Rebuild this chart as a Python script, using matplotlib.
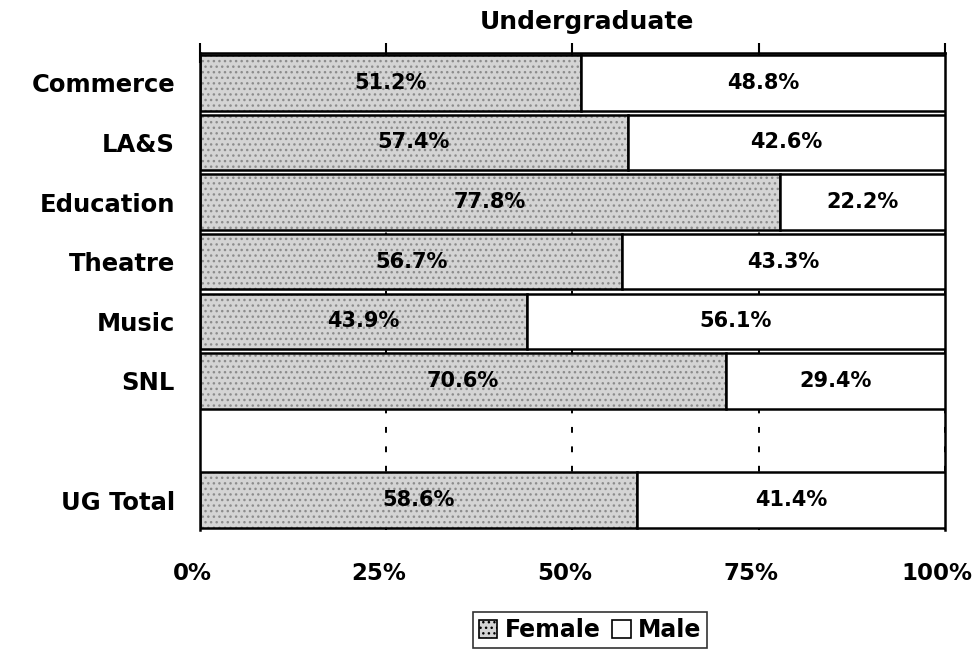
import numpy as np
import matplotlib
matplotlib.use("Agg")
import matplotlib.pyplot as plt
import matplotlib.transforms as mtransforms
from matplotlib.patches import Patch

categories = ['Commerce', 'LA&S', 'Education', 'Theatre', 'Music', 'SNL', '', 'UG Total']
female = [51.2, 57.4, 77.8, 56.7, 43.9, 70.6, np.nan, 58.6]
male = [48.8, 42.6, 22.2, 43.3, 56.1, 29.4, np.nan, 41.4]
xticks = [0, 25, 50, 75, 100]
xticklabels = ['0%', '25%', '50%', '75%', '100%']

plt.rcParams['font.family'] = ['DejaVu Sans']
plt.rcParams['font.weight'] = 'bold'

fig = plt.figure(figsize=(9.76, 6.5), dpi=100)
ax = fig.add_axes([0.2049, 0.1846, 0.9682 - 0.2049, 0.9185 - 0.1846])

y = np.arange(len(categories))
h = 0.93
fem_face = '#d4d4d4'

f = np.array(female, dtype=float)
m = np.array(male, dtype=float)
valid = ~np.isnan(f)

# female: stippled grey fill, then black outline
ax.barh(y[valid], f[valid], height=h, color=fem_face, edgecolor='#8c8c8c',
        hatch='...', linewidth=0, zorder=2)
ax.barh(y[valid], f[valid], height=h, fill=False, edgecolor='black',
        linewidth=1.8, zorder=3)
# male
ax.barh(y[valid], m[valid], left=f[valid], height=h, color='white',
        edgecolor='black', linewidth=1.8, zorder=3)

for yi, fv, mv in zip(y[valid], f[valid], m[valid]):
    ax.text(fv / 2, yi, f'{fv:.1f}%', ha='center', va='center',
            fontsize=15, fontweight='bold', zorder=4)
    ax.text(fv + mv / 2, yi, f'{mv:.1f}%', ha='center', va='center',
            fontsize=15, fontweight='bold', zorder=4)

ax.set_xlim(0, 100)
ax.set_ylim(len(categories) - 0.5, -0.5)
ax.set_yticks(y)
ax.set_yticklabels(categories, fontsize=17.5, fontweight='bold')
ax.tick_params(axis='y', length=0, pad=18)

ax.set_xticks(xticks)
ax.set_xticklabels(xticklabels, fontsize=16.5, fontweight='bold')
ax.tick_params(axis='x', top=True, bottom=False, labeltop=False, labelbottom=True,
               direction='inout', length=14, width=1.5, pad=16)
shift = mtransforms.ScaledTranslation(-8 / 100, 0, fig.dpi_scale_trans)
for lab in ax.get_xticklabels():
    lab.set_transform(lab.get_transform() + shift)

ax.xaxis.grid(True, linestyle=(0, (3, 7)), color='black', linewidth=1.4, zorder=0)
ax.set_axisbelow(True)

for s in ['left', 'right', 'top']:
    ax.spines[s].set_linewidth(1.8)
ax.spines['bottom'].set_visible(False)

fig.text(587 / 976, 1 - 22 / 650, 'Undergraduate', ha='center', va='center',
         fontsize=18, fontweight='bold')

handles = [Patch(facecolor=fem_face, edgecolor='black', hatch='...', linewidth=1.2),
           Patch(facecolor='white', edgecolor='black', linewidth=1.2)]
leg = fig.legend(handles, ['Female', 'Male'], loc='center',
                 bbox_to_anchor=(590 / 976, 1 - 630 / 650), ncol=2,
                 prop={'size': 17, 'weight': 'bold'}, frameon=True, fancybox=False,
                 edgecolor='black', handlelength=0.8, handleheight=0.8,
                 handletextpad=0.3, columnspacing=0.5, borderpad=0.25,
                 borderaxespad=0)
leg.get_frame().set_linewidth(1.2)

fig.savefig('out.png', dpi=100, facecolor='white')
